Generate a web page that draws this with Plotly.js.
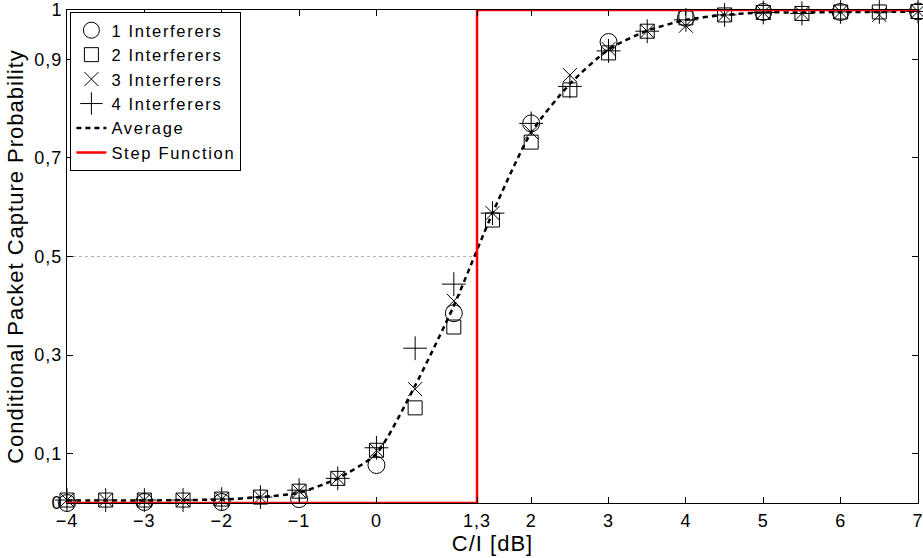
<!DOCTYPE html>
<html>
<head>
<meta charset="utf-8">
<script src="https://cdn.plot.ly/plotly-3.0.1.min.js"></script>
<style>
html,body{margin:0;padding:0;background:#fff;}
#chart{width:923px;height:558px;}
text{letter-spacing:1px;}
text.legendtext{letter-spacing:1.7px;}
</style>
</head>
<body>
<div id="chart"></div>
<script>
// C/I values [dB]
const xInt = [-4, -3, -2, -1, 0, 1, 2, 3, 4, 5, 6, 7];
const xHalf = [-4, -3.5, -3, -2.5, -2, -1.5, -1, -0.5, 0, 0.5, 1, 1.5, 2, 2.5, 3, 3.5, 4, 4.5, 5, 5.5, 6, 6.5, 7];

const interf1 = [0.000, 0.002, 0.002, 0.008, 0.077, 0.385, 0.770, 0.935, 0.984, 0.996, 0.996, 0.997];
const interf2 = [0.006, 0.006, 0.006, 0.006, 0.008, 0.012, 0.024, 0.050, 0.107, 0.193, 0.357, 0.574, 0.732, 0.838, 0.913, 0.957, 0.984, 0.990, 0.995, 0.993, 0.996, 0.996, 0.997];
const interf3 = [0.006, 0.006, 0.006, 0.006, 0.008, 0.012, 0.024, 0.050, 0.107, 0.231, 0.410, 0.588, 0.752, 0.868, 0.921, 0.957, 0.968, 0.990, 0.995, 0.993, 0.996, 0.990, 0.997];
const interf4 = [0.006, 0.006, 0.006, 0.006, 0.008, 0.012, 0.026, 0.050, 0.112, 0.314, 0.444, 0.588, 0.770, 0.845, 0.917, 0.957, 0.980, 0.990, 0.995, 0.993, 0.996, 0.996, 0.997];
const average = [0.005, 0.005, 0.005, 0.006, 0.007, 0.012, 0.021, 0.050, 0.100, 0.238, 0.400, 0.588, 0.752, 0.850, 0.920, 0.958, 0.980, 0.990, 0.995, 0.995, 0.996, 0.996, 0.997];

const stepX = [-4, 1.3, 1.3, 7];
const stepY = [0, 0, 1, 1];
const refX = [-4, 1.3];
const refY = [0.5, 0.5];

const xTickVals = [-4, -3, -2, -1, 0, 1.3, 2, 3, 4, 5, 6, 7];
const xTickText = ['\u22124', '\u22123', '\u22122', '\u22121', '0', '1,3', '2', '3', '4', '5', '6', '7'];
const yTickVals = [0, 0.1, 0.3, 0.5, 0.7, 0.9, 1];
const yTickText = ['0', '0,1', '0,3', '0,5', '0,7', '0,9', '1'];

const mk = (sym, size) => ({symbol: sym, size: size, color: '#000', line: {color: '#000', width: 1}});

const traces = [
  {x: refX, y: refY, mode: 'lines', line: {color: '#b0b0b0', width: 1, dash: 'dot'}, showlegend: false, hoverinfo: 'skip'},
  {x: xInt, y: interf1, mode: 'markers', name: '1 Interferers', marker: mk('circle-open', 17), cliponaxis: false},
  {x: xHalf, y: interf2, mode: 'markers', name: '2 Interferers', marker: mk('square-open', 14), cliponaxis: false},
  {x: xHalf, y: interf3, mode: 'markers', name: '3 Interferers', marker: mk('x-thin-open', 14), cliponaxis: false},
  {x: xHalf, y: interf4, mode: 'markers', name: '4 Interferers', marker: mk('cross-thin-open', 17), cliponaxis: false},
  {x: xHalf, y: average, mode: 'lines', name: 'Average', line: {color: '#000', width: 2.5, dash: '5px,4px', shape: 'spline', smoothing: 0.6}},
  {x: stepX, y: stepY, mode: 'lines', name: 'Step Function', line: {color: '#ff0000', width: 2.5}}
];

const layout = {
  width: 923, height: 558,
  margin: {l: 67, r: 5, t: 10, b: 55},
  paper_bgcolor: '#fff', plot_bgcolor: '#fff',
  font: {family: 'Liberation Sans, Arial, sans-serif', size: 18, color: '#000'},
  showlegend: true,
  legend: {x: 0.004, y: 0.996, xanchor: 'left', yanchor: 'top', bgcolor: '#fff', bordercolor: '#000', borderwidth: 1,
           font: {size: 16.5}, tracegroupgap: 0, itemwidth: 30},
  xaxis: {
    range: [-4, 7], tickmode: 'array', tickvals: xTickVals, ticktext: xTickText,
    ticks: 'inside', ticklen: 6, tickcolor: '#000', showline: true, linecolor: '#000', linewidth: 1,
    mirror: 'allticks', showgrid: false, zeroline: false, tickfont: {size: 18}, ticklabeloverflow: 'allow',
    ticklabelstandoff: 1,
    title: {text: 'C/I [dB]', font: {size: 22}, standoff: 0}
  },
  yaxis: {
    range: [0, 1], tickmode: 'array', tickvals: yTickVals, ticktext: yTickText,
    ticks: 'inside', ticklen: 6, tickcolor: '#000', showline: true, linecolor: '#000', linewidth: 1,
    mirror: 'allticks', showgrid: false, zeroline: false, tickfont: {size: 18}, ticklabeloverflow: 'allow',
    title: {text: 'Conditional Packet Capture Probability', font: {size: 22}, standoff: 4}
  }
};

Plotly.newPlot('chart', traces, layout, {displayModeBar: false, staticPlot: true});
</script>
</body>
</html>
